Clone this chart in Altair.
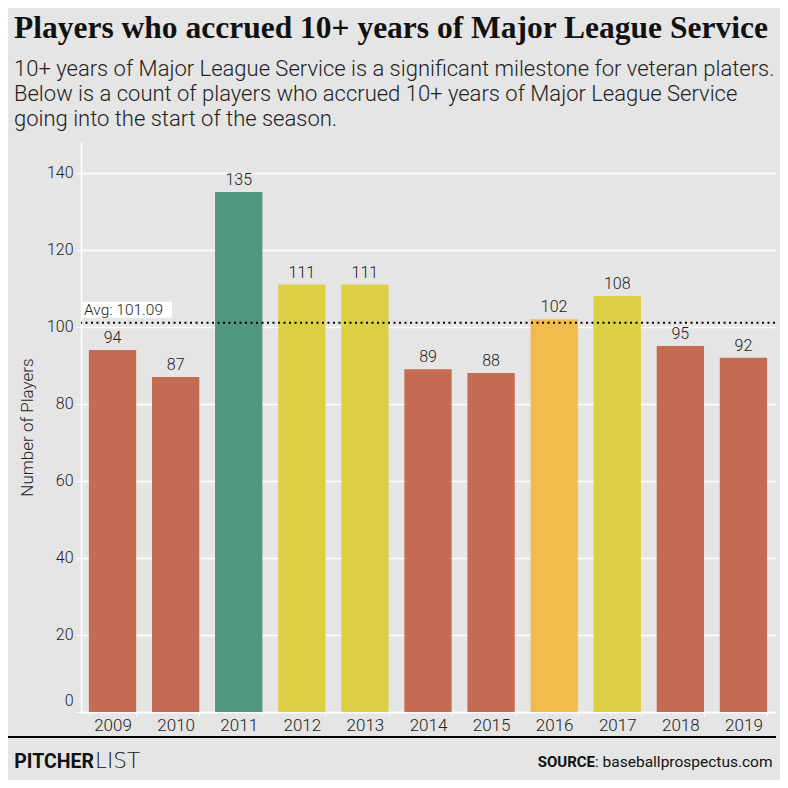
import altair as alt
import pandas as pd

years = ["2009", "2010", "2011", "2012", "2013", "2014", "2015", "2016", "2017", "2018", "2019"]
players = [94, 87, 135, 111, 111, 89, 88, 102, 108, 95, 92]
groups = ["below", "below", "max", "above", "above", "below", "below", "near", "above", "below", "below"]
group_domain = ["below", "max", "above", "near"]
group_colors = ["#C46B51", "#51977F", "#DBCF46", "#F3BA4E"]
y_ticks = [0, 20, 40, 60, 80, 100, 120, 140]
avg_value = 101.09

title_text = "Players who accrued 10+ years of Major League Service"
subtitle_lines = [
    "10+ years of Major League Service is a significant milestone for veteran platers.",
    "Below is a count of players who accrued 10+ years of Major League Service",
    "going into the start of the season.",
]

BG = "#E5E5E5"
SANS = "Roboto"

df = pd.DataFrame({"year": years, "players": players, "group": groups})

x_enc = alt.X("year:N", sort=years, title=None,
              scale=alt.Scale(paddingInner=0.25, paddingOuter=0.125),
              axis=alt.Axis(labelAngle=0, labelFont=SANS, labelFontWeight=300, labelFontSize=17,
                            labelColor="#222", labelPadding=1, domainColor="white", domainWidth=1.5,
                            tickColor="white", tickSize=4, tickBand="extent", grid=False))
y_enc = alt.Y("players:Q", title="Number of Players",
              scale=alt.Scale(domain=[0, 148], nice=False),
              axis=alt.Axis(values=y_ticks, grid=True, gridColor="white", gridWidth=1.5,
                            domainColor="white", domainWidth=1.5, tickColor="white", tickSize=5,
                            labelFont=SANS, labelFontWeight=300, labelFontSize=16, labelColor="#222",
                            labelPadding=3, labelFlush=True, labelFlushOffset=-4,
                            titleFont=SANS, titleFontWeight=300, titleFontSize=17, titleColor="#222",
                            titlePadding=10))

base = alt.Chart(df)

bars = base.mark_bar().encode(
    x=x_enc,
    y=y_enc,
    color=alt.Color("group:N", scale=alt.Scale(domain=group_domain, range=group_colors), legend=None),
)

bar_labels = base.mark_text(baseline="bottom", dy=-4, font=SANS, fontWeight=300, fontSize=16,
                            color="#222").encode(
    x=alt.X("year:N", sort=years),
    y="players:Q",
    text="players:Q",
)

avg_df = pd.DataFrame({"avg": [avg_value], "label": ["Avg: " + f"{avg_value:.2f}"]})
avg_rule = alt.Chart(avg_df).mark_rule(color="black", strokeWidth=2, strokeDash=[2, 3.5]).encode(
    y="avg:Q"
)
avg_box = alt.Chart(avg_df).mark_rect(color="white", yOffset=-21, y2Offset=-5).encode(
    x=alt.value(1), x2=alt.value(91), y="avg:Q", y2="avg:Q"
)
avg_text = alt.Chart(avg_df).mark_text(align="left", baseline="alphabetic", dy=-8, font=SANS,
                                       fontWeight=300, fontSize=15.5, color="#222").encode(
    x=alt.value(3), y="avg:Q", text="label:N"
)


def annotation(text, x, y, **kw):
    d = pd.DataFrame({"t": [text]})
    return alt.Chart(d).mark_text(baseline="alphabetic", **kw).encode(
        x=alt.value(x), y=alt.value(y), text="t:N"
    )


title = annotation(title_text, -67, -104, align="left", font="Liberation Serif",
                   fontWeight="bold", fontSize=31.5, color="#111")
sub_layers = [
    annotation(line, -67, yy, align="left", font=SANS, fontWeight=300, fontSize=22, color="#222")
    for line, yy in zip(subtitle_lines, [-66, -41, -16])
]

footer_rule = alt.Chart(pd.DataFrame({"a": [0]})).mark_rule(color="black", strokeWidth=2).encode(
    x=alt.value(-73), x2=alt.value(695), y=alt.value(595)
)
brand_bold = annotation("PITCHER", 13, 626, align="right", font=SANS, fontWeight="bold",
                        fontSize=19.5, color="#111")
brand_light = annotation("LIST", 14, 626, align="left", font="DejaVu Sans", fontWeight=200,
                         fontSize=21.5, color="#111")
source_bold = annotation("SOURCE", 514, 625, align="right", font=SANS, fontWeight="bold",
                         fontSize=15, color="#111")
source_rest = annotation(": baseballprospectus.com", 514, 625, align="left", font=SANS,
                         fontSize=15.5, color="#111")

chart = alt.layer(
    bars, bar_labels, avg_rule, avg_box, avg_text, title, *sub_layers,
    footer_rule, brand_bold, brand_light, source_bold, source_rest,
).properties(
    width=694, height=570,
    autosize=alt.AutoSizeParams(type="none"),
    padding={"left": 73, "top": 134, "right": 5, "bottom": 68},
    background=BG,
).configure_view(stroke=None)

chart.save("out.html", embed_options={"renderer": "svg", "actions": False})
